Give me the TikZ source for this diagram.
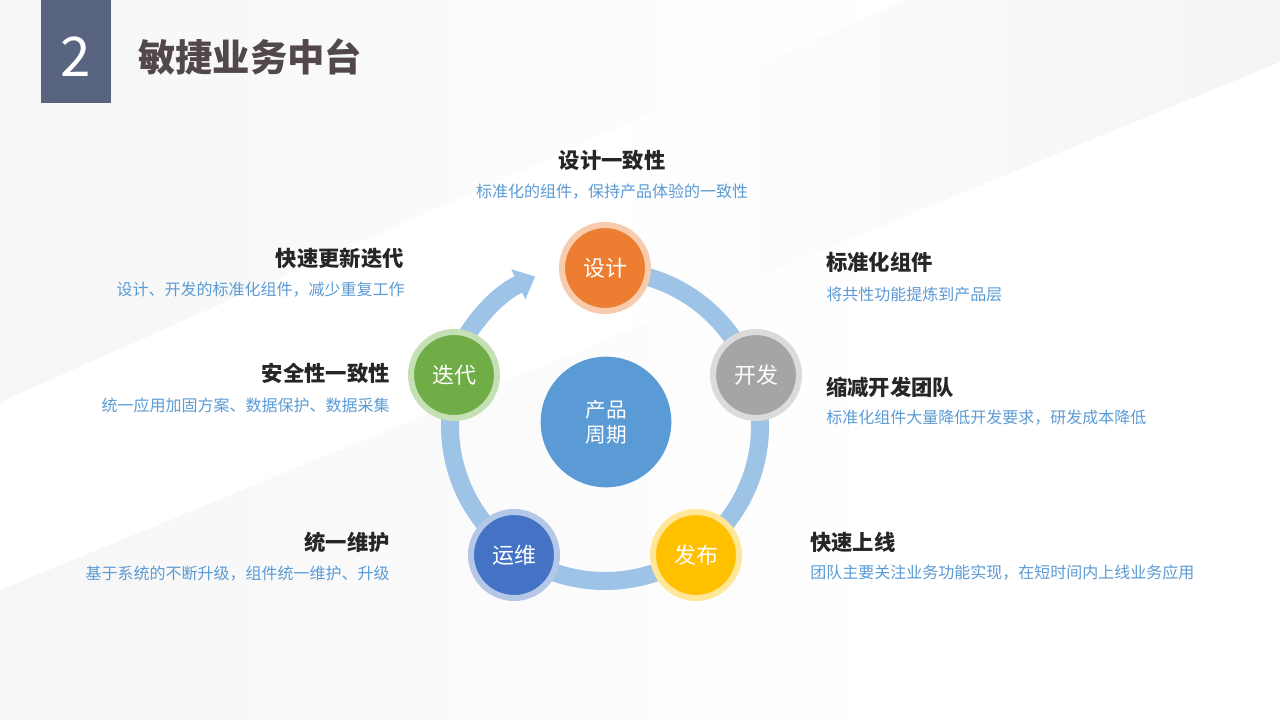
\documentclass[tikz,border=0pt]{standalone}
\usepackage{fontspec}
\setmainfont{Noto Sans CJK SC}
\usepackage{tikz}
\usetikzlibrary{arrows.meta}
\definecolor{cSlate}{RGB}{89,100,128}
\definecolor{cTitle}{RGB}{82,72,74}
\definecolor{cHead}{RGB}{38,38,38}
\definecolor{cDesc}{RGB}{91,155,213}
\definecolor{cRing}{RGB}{157,195,230}
\definecolor{cHub}{RGB}{91,155,213}
\definecolor{cOrange}{RGB}{237,125,49}
\definecolor{cOrangeLt}{RGB}{248,203,173}
\definecolor{cGray}{RGB}{165,165,165}
\definecolor{cGrayLt}{RGB}{219,219,219}
\definecolor{cGold}{RGB}{255,192,0}
\definecolor{cGoldLt}{RGB}{255,230,153}
\definecolor{cBlue}{RGB}{68,114,196}
\definecolor{cBlueLt}{RGB}{180,199,231}
\definecolor{cGreen}{RGB}{112,173,71}
\definecolor{cGreenLt}{RGB}{197,224,180}
\definecolor{cBg}{RGB}{246,246,247}
\definecolor{cBgDk}{RGB}{244,244,245}
\tikzset{
	stage/.style    ={circle, minimum size=64.5pt, inner sep=0pt, line width=4.5pt, text=white, font=\fontsize{16.5}{18}\selectfont},
	hub/.style      ={circle, minimum size=98pt, inner sep=0pt, fill=cHub, text=white, align=center, font=\fontsize{15.5}{18.75}\selectfont},
	headtxt/.style  ={inner sep=0pt, text=cHead, font=\bfseries\fontsize{16}{19}\selectfont},
	desctxt/.style  ={inner sep=0pt, text=cDesc, font=\fontsize{12}{14}\selectfont},
	cyclearrow/.style={cRing, line width=13.5pt},
}
\begin{document}
\begin{tikzpicture}[x=0.75pt, y=-0.75pt]
	\useasboundingbox (0,0) rectangle (1280,720);
	% background bands
	\fill[white] (0,0) rectangle (1280,720);
	\shade[left color=cBg, right color=white] (0,0) -- (905,0) -- (0,402) -- cycle;
	\shade[left color=white, right color=cBgDk] (600,136) -- (905,0) -- (1280,0) -- (1280,62) -- (600,342) -- cycle;
	\shade[left color=cBg, right color=white] (0,590) -- (900,219) -- (900,720) -- (0,720) -- cycle;
	% title
	\fill[cSlate] (41,0) rectangle (111,103);
	\node[text=white, font=\fontsize{41}{41}\selectfont] (num) at (76,57) {2};
	\node[anchor=west, inner sep=0pt, text=cTitle, font=\bfseries\fontsize{28}{30}\selectfont] (title) at (138,57) {敏捷业务中台};
	% cycle: main ring, then the last bit (joined under the green circle) with the head
	\draw[cyclearrow] (605,271) arc[start angle=-90, end angle=200, radius=155];
	\draw[cyclearrow, -{Triangle[width=24pt, length=14pt]}] (449.9,369.6) arc[start angle=200, end angle=245, radius=165];
	\node[hub] (cycle) at (606,422) {产品\\周期};
	\node[stage, fill=cOrange, draw=cOrangeLt] (design) at (605,268) {设计};
	\node[stage, fill=cGray, draw=cGrayLt] (dev) at (756,375) {开发};
	\node[stage, fill=cGold, draw=cGoldLt] (release) at (696,555) {发布};
	\node[stage, fill=cBlue, draw=cBlueLt] (ops) at (514,555) {运维};
	\node[stage, fill=cGreen, draw=cGreenLt] (iter) at (454,375) {迭代};
	% captions
	\node[headtxt] (hDesign) at (612,160) {设计一致性};
	\node[desctxt] (dDesign) at (612,192) {标准化的组件，保持产品体验的一致性};
	\node[headtxt, anchor=east] (hIter) at (404,258) {快速更新迭代};
	\node[desctxt, anchor=east] (dIter) at (405,290) {设计、开发的标准化组件，减少重复工作};
	\node[headtxt, anchor=east] (hSafe) at (390,373) {安全性一致性};
	\node[desctxt, anchor=east] (dSafe) at (390,405) {统一应用加固方案、数据保护、数据采集};
	\node[headtxt, anchor=east] (hOps) at (390,542) {统一维护};
	\node[desctxt, anchor=east] (dOps) at (390,574) {基于系统的不断升级，组件统一维护、升级};
	\node[headtxt, anchor=west] (hComp) at (826,262) {标准化组件};
	\node[desctxt, anchor=west] (dComp) at (826,294) {将共性功能提炼到产品层};
	\node[headtxt, anchor=west] (hTeam) at (826,387) {缩减开发团队};
	\node[desctxt, anchor=west] (dTeam) at (826,418) {标准化组件大量降低开发要求，研发成本降低};
	\node[headtxt, anchor=west] (hLaunch) at (810,542) {快速上线};
	\node[desctxt, anchor=west] (dLaunch) at (810,573) {团队主要关注业务功能实现，在短时间内上线业务应用};
\end{tikzpicture}
\end{document}
